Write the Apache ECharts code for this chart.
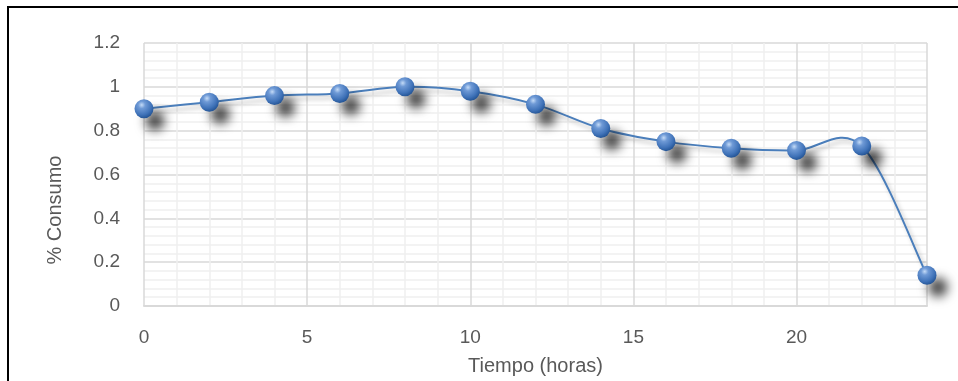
<!DOCTYPE html>
<html>
<head>
<meta charset="utf-8">
<script src="https://cdn.jsdelivr.net/npm/echarts@6/dist/echarts.min.js"></script>
<style>
html,body{margin:0;padding:0;background:#fff;}
#chart{width:958px;height:381px;}
</style>
</head>
<body>
<div id="chart"></div>
<script>
const hours = [0, 2, 4, 6, 8, 10, 12, 14, 16, 18, 20, 22, 24];
const consumo = [0.90, 0.93, 0.96, 0.97, 1.00, 0.98, 0.92, 0.81, 0.75, 0.72, 0.71, 0.73, 0.14];
const xTitle = 'Tiempo (horas)';
const yTitle = '% Consumo';

const chart = echarts.init(document.getElementById('chart'));
const font = 'Liberation Sans, Arial, sans-serif';
const txt = '#595959';
const points = hours.map((h, i) => [h, consumo[i]]);

// Smooth curve (Catmull-Rom style Bezier) drawn through library coordinates
function renderCurve(params, api) {
  if (params.dataIndex !== 0) return null;
  const P = points.map(p => api.coord(p));
  const n = P.length;
  let d = 'M' + P[0][0] + ' ' + P[0][1];
  for (let i = 0; i < n - 1; i++) {
    const p0 = P[Math.max(0, i - 1)], p1 = P[i], p2 = P[i + 1], p3 = P[Math.min(n - 1, i + 2)];
    const c1 = [p1[0] + (p2[0] - p0[0]) / 6, p1[1] + (p2[1] - p0[1]) / 6];
    const c2 = [p2[0] - (p3[0] - p1[0]) / 6, p2[1] - (p3[1] - p1[1]) / 6];
    d += ' C' + c1[0] + ' ' + c1[1] + ' ' + c2[0] + ' ' + c2[1] + ' ' + p2[0] + ' ' + p2[1];
  }
  return {
    type: 'path',
    shape: {pathData: d},
    style: {fill: null, stroke: '#4a7ebb', lineWidth: 2,
      shadowColor: 'rgba(0,0,0,0.25)', shadowBlur: 4, shadowOffsetX: 3, shadowOffsetY: 4}
  };
}

chart.setOption({
  animation: false,
  grid: {left: 144, right: 31, top: 43, bottom: 72, containLabel: false},
  xAxis: {
    type: 'value', min: 0, max: 24, interval: 5,
    name: xTitle, nameLocation: 'middle', nameGap: 50,
    nameTextStyle: {color: txt, fontSize: 20, fontFamily: font},
    axisLine: {show: true, lineStyle: {color: '#d9d9d9', width: 2}},
    axisTick: {show: false},
    axisLabel: {color: txt, fontSize: 19, fontFamily: font, margin: 22, showMaxLabel: false},
    splitLine: {show: true, lineStyle: {color: '#d9d9d9', width: 1.5}},
    minorTick: {show: false, splitNumber: 5},
    minorSplitLine: {show: true, lineStyle: {color: '#efefef', width: 1.5}}
  },
  yAxis: {
    type: 'value', min: 0, max: 1.2, interval: 0.2,
    axisLine: {show: false},
    axisTick: {show: false},
    axisLabel: {color: txt, fontSize: 19, fontFamily: font, margin: 24,
      formatter: v => String(Math.round(v * 10) / 10)},
    splitLine: {show: true, lineStyle: {color: '#d9d9d9', width: 1.5}},
    minorTick: {show: false, splitNumber: 5},
    minorSplitLine: {show: true, lineStyle: {color: '#efefef', width: 1.5}}
  },
  graphic: [
    {type: 'rect', shape: {x: 8, y: 7, width: 1000, height: 420},
     style: {fill: null, stroke: '#000', lineWidth: 2}, silent: true, z: 100},
    {type: 'text', x: 55, y: 210, rotation: Math.PI / 2,
     style: {text: yTitle, fill: txt, fontSize: 20, fontFamily: font,
             align: 'center', verticalAlign: 'middle'}}
  ],
  series: [{
    type: 'custom',
    renderItem: renderCurve,
    data: points,
    z: 2,
    silent: true
  }, {
    type: 'scatter',
    data: points,
    symbol: 'circle',
    symbolSize: 19,
    z: 3,
    itemStyle: {
      color: new echarts.graphic.RadialGradient(0.38, 0.3, 0.75, [
        {offset: 0, color: '#c4dbf7'},
        {offset: 0.25, color: '#6f9ad6'},
        {offset: 0.7, color: '#3f72b8'},
        {offset: 1, color: '#1f4f8f'}
      ]),
      opacity: 1,
      borderWidth: 0,
      shadowColor: 'rgba(0,0,0,0.75)', shadowBlur: 11, shadowOffsetX: 11, shadowOffsetY: 12
    },
    emphasis: {disabled: true}
  }]
});
</script>
</body>
</html>
